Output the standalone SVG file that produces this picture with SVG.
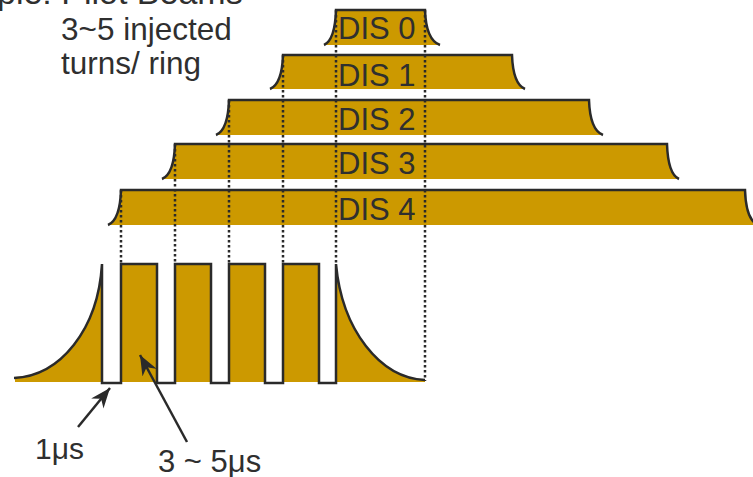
<svg xmlns="http://www.w3.org/2000/svg" width="753" height="477" viewBox="0 0 753 477">
<style>
.txt{font-family:"Liberation Sans",Arial,sans-serif;fill:#2f2f2f;}
.fill{fill:#CC9900;stroke:none;}
.edge{fill:none;stroke:#2a2a2a;stroke-width:2.5;stroke-linejoin:miter;}
.dot{fill:none;stroke:#2a2a2a;stroke-width:2.5;stroke-dasharray:2.5 2.5;}
.arr{fill:none;stroke:#2a2a2a;stroke-width:2.5;}
</style>
<defs>
<marker id="ah" markerUnits="userSpaceOnUse" markerWidth="22" markerHeight="16" refX="20" refY="8" orient="auto">
<path d="M0,0 L20,8 L0,16 L6,8 z" fill="#2a2a2a"/>
</marker>
</defs>
<text class="txt" x="-3" y="4" font-size="34">ple: Pilot Beams</text>
<g id="label-turns">
<text class="txt" x="61" y="40" font-size="31.5">3~5 injected</text>
<text class="txt" x="61" y="74" font-size="31.5">turns/ ring</text>
</g>
<g id="dis0">
<path class="fill" d="M324,45 Q335,40 336,10 L425,10 Q426,40 440,45 Z"/>
<path class="edge" d="M324,45 Q335,40 336,10 L425,10 Q426,40 440,45"/>
<text class="txt" x="338" y="39" font-size="31">DIS 0</text>
</g>
<g id="dis1">
<path class="fill" d="M270,89 Q282,84 283,55 L512,55 Q513,84 525,89 Z"/>
<path class="edge" d="M270,89 Q282,84 283,55 L512,55 Q513,84 525,89"/>
<text class="txt" x="338" y="86" font-size="31">DIS 1</text>
</g>
<g id="dis2">
<path class="fill" d="M216,135 Q228,130 229,100 L589,100 Q590,130 603,135 Z"/>
<path class="edge" d="M216,135 Q228,130 229,100 L589,100 Q590,130 603,135"/>
<text class="txt" x="338" y="130" font-size="31">DIS 2</text>
</g>
<g id="dis3">
<path class="fill" d="M162,179 Q174,174 175,144 L667,144 Q668,174 679,179 Z"/>
<path class="edge" d="M162,179 Q174,174 175,144 L667,144 Q668,174 679,179"/>
<text class="txt" x="338" y="174" font-size="31">DIS 3</text>
</g>
<g id="dis4">
<path class="fill" d="M108,225 Q120,220 121,190 L745,190 Q746,220 758,225 Z"/>
<path class="edge" d="M108,225 Q120,220 121,190 L745,190 Q746,220 758,225"/>
<text class="txt" x="338" y="220" font-size="31">DIS 4</text>
</g>
<g id="pulse-train">
<path class="fill" d="M15,377 C60,376 98,330 102,264 L102,382 L15,382 Z"/>
<rect class="fill" x="121" y="264" width="36" height="118"/>
<rect class="fill" x="175" y="264" width="36" height="118"/>
<rect class="fill" x="229" y="264" width="36" height="118"/>
<rect class="fill" x="283" y="264" width="36" height="118"/>
<path class="fill" d="M336,264 C342,330 380,378 425,380 L425,382 L336,382 Z"/>
<path class="edge" d="M14,378 C60,376 98,330 102,264 L102,383 L121,383 L121,264 L157,264 L157,383 L175,383 L175,264 L211,264 L211,383 L229,383 L229,264 L265,264 L265,383 L283,383 L283,264 L319,264 L319,383 L336,383 L336,264 C342,330 380,378 425,380"/>
</g>
<g id="connectors">
<line class="dot" x1="336" y1="10" x2="336" y2="264"/>
<line class="dot" x1="425" y1="10" x2="425" y2="381"/>
<line class="dot" x1="283" y1="55" x2="283" y2="264"/>
<line class="dot" x1="229" y1="100" x2="229" y2="264"/>
<line class="dot" x1="175" y1="144" x2="175" y2="264"/>
<line class="dot" x1="121" y1="190" x2="121" y2="264"/>
<line class="arr" x1="78" y1="427" x2="110" y2="388" marker-end="url(#ah)"/>
<line class="arr" x1="187" y1="442" x2="140" y2="355" marker-end="url(#ah)"/>
</g>
<g id="label-1us"><text class="txt" x="35" y="459" font-size="30">1μs</text></g>
<g id="label-3-5us"><text class="txt" x="158" y="472" font-size="31">3 ~ 5μs</text></g>
</svg>
